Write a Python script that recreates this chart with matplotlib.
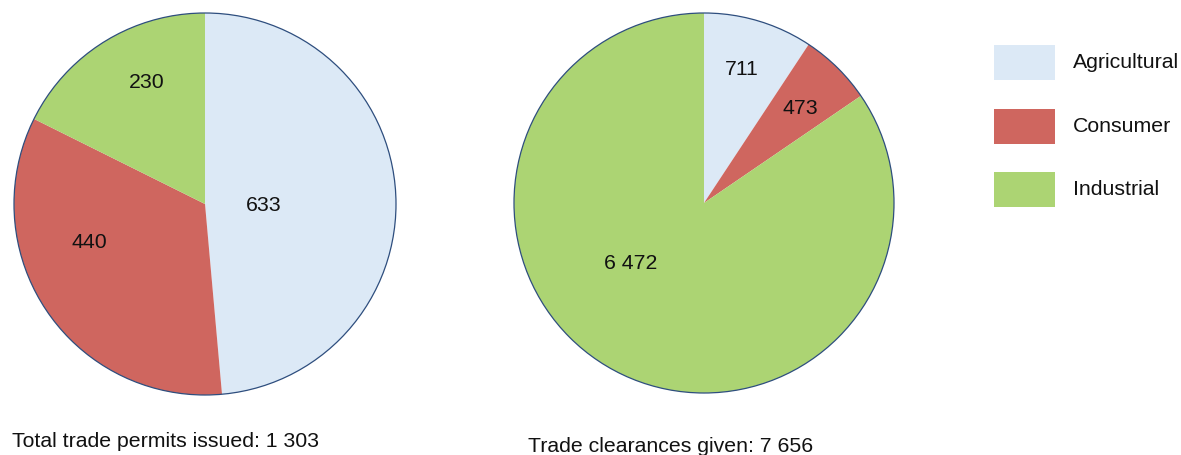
import matplotlib
matplotlib.use("Agg")
import matplotlib.pyplot as plt
from matplotlib.patches import Circle, Rectangle

# Data
categories = ["Agricultural", "Consumer", "Industrial"]
permits = [633, 440, 230]
clearances = [711, 473, 6472]
permits_title = "Total trade permits issued"
clearances_title = "Trade clearances given"

colors = ["#dce9f6", "#cf665f", "#acd473"]
outline = "#2e4e7e"
text_color = "#111111"
font_size = 15.3

plt.rcParams["font.family"] = ["Liberation Sans", "DejaVu Sans"]

W, H = 1181, 455
fig = plt.figure(figsize=(W / 100, H / 100), dpi=100)
ax = fig.add_axes([0, 0, 1, 1])
ax.set_xlim(0, W)
ax.set_ylim(0, H)
ax.set_aspect("equal")
ax.axis("off")


def fmt(v):
    return f"{v:,}".replace(",", " ")


def draw_pie(values, center, radius, label_offsets):
    ax.pie(values, colors=colors, startangle=90, counterclock=False,
           center=center, radius=radius, frame=True,
           wedgeprops=dict(linewidth=0))
    ax.add_patch(Circle(center, radius, fill=False, edgecolor=outline,
                        linewidth=0.9, zorder=3))
    for v, (dx, dy) in zip(values, label_offsets):
        ax.text(center[0] + dx * radius, center[1] + dy * radius, fmt(v),
                ha="center", va="center", fontsize=font_size,
                color=text_color, zorder=4)


draw_pie(permits, (205, H - 204), 191,
         [(0.309, -0.010), (-0.607, -0.204), (-0.304, 0.634)])
draw_pie(clearances, (704, H - 203), 190,
         [(0.200, 0.705), (0.505, 0.495), (-0.384, -0.321)])

# Restore the full-figure view after pie() adjusted limits
ax.set_xlim(0, W)
ax.set_ylim(0, H)
ax.axis("off")

ax.text(12, H - 447, f"{permits_title}: {fmt(sum(permits))}",
        ha="left", va="baseline", fontsize=font_size, color=text_color)
ax.text(528, H - 452, f"{clearances_title}: {fmt(sum(clearances))}",
        ha="left", va="baseline", fontsize=font_size, color=text_color)

# Legend
legend_tops = [45, 109, 172]
for cat, col, top in zip(categories, colors, legend_tops):
    ax.add_patch(Rectangle((994, H - top - 35), 61, 35, facecolor=col,
                           edgecolor="none"))
    ax.text(1073, H - top - 17.5, cat, ha="left", va="center",
            fontsize=font_size, color=text_color)

fig.savefig("out.png", dpi=100)
